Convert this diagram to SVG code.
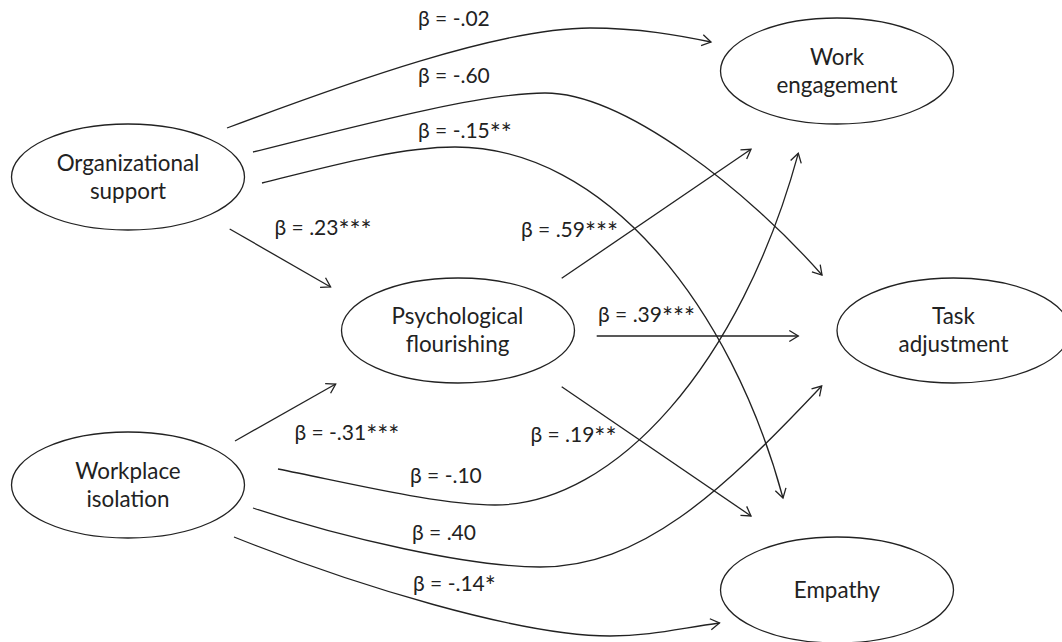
<svg xmlns="http://www.w3.org/2000/svg" width="1062" height="642" viewBox="0 0 1062 642">
<style>
.node{fill:#fff;stroke:#222;stroke-width:1.3}
.nt{font-family:Lato,"Open Sans","DejaVu Sans",sans-serif;font-size:22.4px;fill:#222;text-anchor:middle}
.lb{font-family:Lato,"Open Sans","DejaVu Sans",sans-serif;font-size:21px;fill:#222}
.st{font-size:26px}
.c{fill:none;stroke:#222;stroke-width:1.3;marker-end:url(#ah)}
</style>
<defs>
<marker id="ah" markerUnits="userSpaceOnUse" markerWidth="14" markerHeight="14" viewBox="-11 -7 14 14" refX="0" refY="0" orient="auto" overflow="visible">
<path d="M-9,-5.5 L0,0 L-9,5.5" fill="none" stroke="#222" stroke-width="1.3"/>
</marker>
</defs>
<rect width="1062" height="642" fill="#fff"/>
<g id="connectors">
<path class="c" d="M227,128 C347,83 500,28 590,28 C640,28 680,35.6 711,42"/>
<path class="c" d="M253,152 C353,127 480,93 545,93 C625,93 749.4,192.5 822,275"/>
<path class="c" d="M262,183 C330,166 400,147 455,147 C605,147 731,306 783,498"/>
<path class="c" d="M229.7,229 L330.6,287"/>
<path class="c" d="M235,441 L335.7,384"/>
<path class="c" d="M561.7,278.3 L751,149.3"/>
<path class="c" d="M596.7,336 L798.3,336"/>
<path class="c" d="M561.7,386.7 L751,516"/>
<path class="c" d="M278,469 C358,485 440,505 495,505 C615,505 740.8,364 798.3,153.3"/>
<path class="c" d="M253,508 C343,538 470,567 540,567 C640,567 718.5,495.5 821.7,386"/>
<path class="c" d="M234,537 C354,585 520,636 610,636 C650,636 679.5,628.4 719.5,623"/>
</g>
<g id="labels">
<text class="lb" x="418" y="26">β = -.02</text>
<text class="lb" x="418" y="83">β = -.60</text>
<text class="lb" x="418" y="138">β = -.15<tspan class="st" dy="5">**</tspan></text>
<text class="lb" x="274.5" y="235">β = .23<tspan class="st" dy="5">***</tspan></text>
<text class="lb" x="521" y="237">β = .59<tspan class="st" dy="5">***</tspan></text>
<text class="lb" x="598" y="322">β = .39<tspan class="st" dy="5">***</tspan></text>
<text class="lb" x="294.4" y="440">β = -.31<tspan class="st" dy="5">***</tspan></text>
<text class="lb" x="410" y="483">β = -.10</text>
<text class="lb" x="412" y="540">β = .40</text>
<text class="lb" x="413" y="591">β = -.14<tspan class="st" dy="5">*</tspan></text>
<text class="lb" x="530.4" y="442">β = .19<tspan class="st" dy="5">**</tspan></text>
</g>
<g id="org-support">
<ellipse class="node" cx="128" cy="177" rx="116.5" ry="53"/>
<text class="nt" x="128" y="171">Organizational</text>
<text class="nt" x="128" y="199">support</text>
</g>
<g id="work-engagement">
<ellipse class="node" cx="837" cy="71" rx="116.5" ry="53"/>
<text class="nt" x="837" y="65">Work</text>
<text class="nt" x="837" y="93">engagement</text>
</g>
<g id="psych-flourishing">
<ellipse class="node" cx="458" cy="330.5" rx="116.5" ry="52.5"/>
<text class="nt" x="457.5" y="324">Psychological</text>
<text class="nt" x="457.5" y="352">flourishing</text>
</g>
<g id="task-adjustment">
<ellipse class="node" cx="953.5" cy="330.5" rx="116.5" ry="52.5"/>
<text class="nt" x="953.5" y="324">Task</text>
<text class="nt" x="953.5" y="352">adjustment</text>
</g>
<g id="workplace-isolation">
<ellipse class="node" cx="128" cy="485" rx="116.5" ry="53"/>
<text class="nt" x="128" y="479">Workplace</text>
<text class="nt" x="128" y="507">isolation</text>
</g>
<g id="empathy">
<ellipse class="node" cx="837" cy="590" rx="116.5" ry="53"/>
<text class="nt" x="837" y="598">Empathy</text>
</g>
</svg>
